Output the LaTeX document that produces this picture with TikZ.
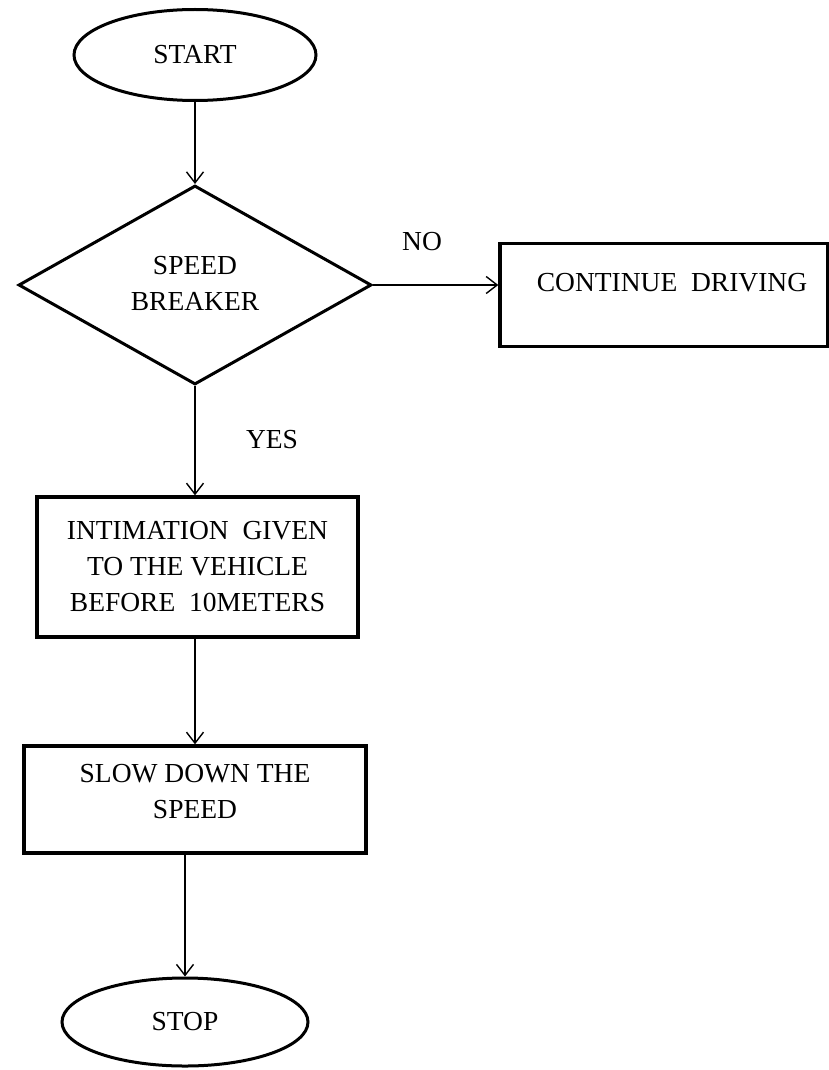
\documentclass[tikz,border=0pt]{standalone}
\usepackage{fontspec}
\setmainfont{Liberation Serif}
\usetikzlibrary{shapes.geometric,arrows.meta}
\begin{document}
\begin{tikzpicture}[x=1pt,y=-1pt,
  every node/.style={font=\fontsize{27.5}{36}\selectfont, align=center},
  term/.style={draw, ellipse, line width=3pt, inner sep=0pt},
  proc/.style={draw, rectangle, line width=3.4pt, inner sep=0pt},
  decision/.style={draw, diamond, line width=3pt, inner sep=0pt},
  txt/.style={inner sep=0pt},
  flow/.style={line width=1.4pt, -{Straight Barb[length=11pt,width=17pt,line width=1.4pt]}}
]
\useasboundingbox (0,0) rectangle (829,1070);
% shapes
\node[term, minimum width=242pt, minimum height=91pt] (start) at (195,55) {START};
\node[decision, minimum width=353pt, minimum height=199pt] (brk) at (195,285) {};
\node[txt] (brktext) at (195,283) {SPEED\\BREAKER};
\node[proc, minimum width=328pt, minimum height=103pt] (cont) at (664,295) {};
\node[txt] (conttext) at (672,283) {CONTINUE\ \ DRIVING};
\node[proc, minimum width=321pt, minimum height=140pt] (int) at (197.5,567) {INTIMATION\ \ GIVEN\\TO THE VEHICLE\\BEFORE\ \ 10METERS};
\node[proc, minimum width=342pt, minimum height=107pt] (slow) at (195,799.5) {};
\node[txt] (slowtext) at (195,792) {SLOW DOWN THE\\SPEED};
\node[term, minimum width=246pt, minimum height=88pt] (stop) at (185,1022) {STOP};
% labels
\node[txt] (no) at (422,242) {NO};
\node[txt] (yes) at (272,440) {YES};
% connectors
\draw[flow] (start) -- (brk);
\draw[flow] (brk.east) -- (brk.east -| cont.west);
\draw[flow] (brk.south) -- (brk.south |- int.north);
\draw[flow] (int.south -| slow.north) -- (slow.north);
\draw[flow] (slow.south -| stop.north) -- (stop.north);
\end{tikzpicture}
\end{document}
